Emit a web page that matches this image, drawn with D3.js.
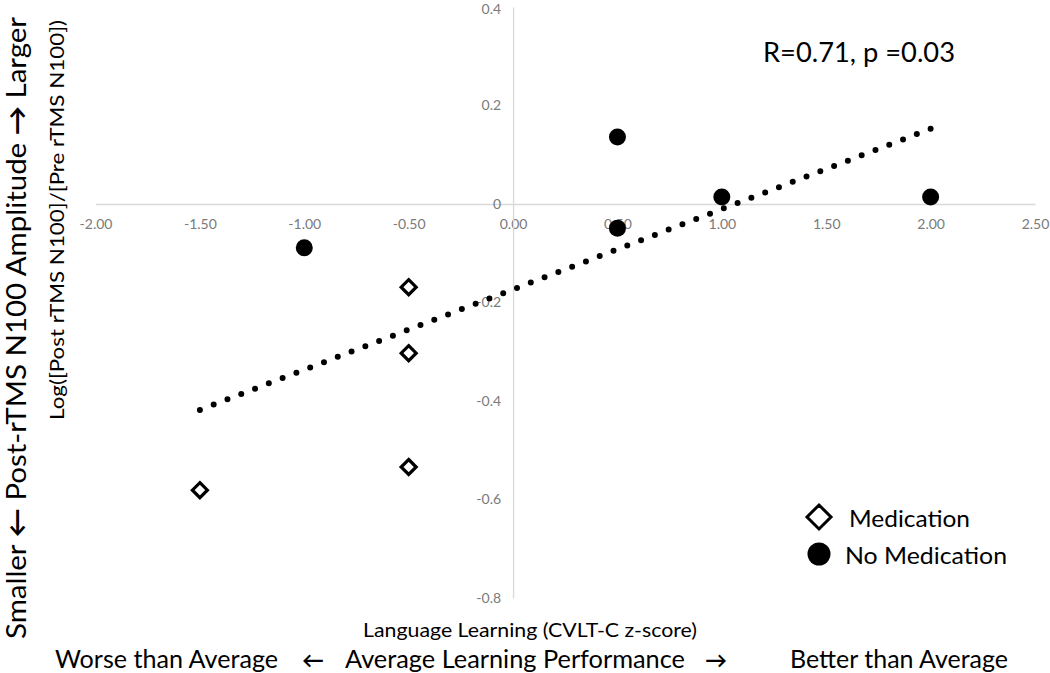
<!DOCTYPE html>
<html><head><meta charset="utf-8">
<script src="https://cdn.jsdelivr.net/npm/d3@7"></script>
<style>body{margin:0;background:#fff} text{font-family:Lato,"Open Sans",sans-serif}</style>
</head><body><svg id="c" width="1050" height="673"></svg>
<script>
// ---- data ----
const medX = [-1.5, -0.5, -0.5, -0.5];
const medY = [-0.581, -0.169, -0.303, -0.534];
const noMedX = [-1.0, 0.5, 0.5, 1.0, 2.0];
const noMedY = [-0.089, 0.136, -0.049, 0.014, 0.014];
const xTicks = [-2, -1.5, -1, -0.5, 0, 0.5, 1, 1.5, 2, 2.5];
const xTickLabels = ["-2.00","-1.50","-1.00","-0.50","0.00","0.50","1.00","1.50","2.00","2.50"];
const yTicks = [-0.8, -0.6, -0.4, -0.2, 0, 0.2, 0.4];
const yTickLabels = ["-0.8","-0.6","-0.4","-0.2","0","0.2","0.4"];
const seriesNames = ["Medication", "No Medication"];
const statText = "R=0.71, p =0.03";
const xTitle = "Language Learning (CVLT-C z-score)";
const yTitle = "Log([Post rTMS N100]/[Pre rTMS N100])";
const yOuterParts = ["Smaller ", "\u2190", " Post-rTMS N100 Amplitude ", "\u2192", " Larger"];
const xOuterParts = ["Worse than Average", "\u2190", "Average Learning Performance", "\u2192", "Better than Average"];

// ---- scales ----
const svg = d3.select("#c");
const x = d3.scaleLinear().domain([-2, 2.5]).range([95.5, 1035]);
const y = d3.scaleLinear().domain([-0.8, 0.4]).range([598, 7]);

// ---- axes ----
const gx = svg.append("g").attr("transform", `translate(0,${y(0)})`)
  .call(d3.axisBottom(x).tickValues(xTicks).tickSize(0).tickSizeOuter(0).tickPadding(15)
    .tickFormat((d, i) => xTickLabels[i]));
const gy = svg.append("g").attr("transform", `translate(${x(0)},0)`)
  .call(d3.axisLeft(y).tickValues(yTicks).tickSize(0).tickSizeOuter(0).tickPadding(12)
    .tickFormat((d, i) => yTickLabels[i]));
[gx, gy].forEach(g => {
  g.select(".domain").attr("stroke", "#d9d9d9").attr("stroke-width", 1.3);
  g.selectAll("text").attr("fill", "#7a7a7a").style("font-size", "14px").style("font-family", "Lato, sans-serif");
});
gy.selectAll(".tick text").filter(d => d === 0.4).attr("dy", "0.45em");

// ---- trendline (least squares over all points) ----
const allX = medX.concat(noMedX), allY = medY.concat(noMedY);
const mx = d3.mean(allX), my = d3.mean(allY);
const slope = d3.sum(allX, (v, i) => (v - mx) * (allY[i] - my)) / d3.sum(allX, v => (v - mx) ** 2);
const icpt = my - slope * mx;
const [x0, x1] = d3.extent(allX);
const trend = svg.append("path")
  .attr("d", d3.line().x(d => x(d)).y(d => y(icpt + slope * d))([x0, x1]))
  .attr("stroke", "#000").attr("stroke-width", 6).attr("stroke-linecap", "round").attr("fill", "none");
const L = trend.node().getTotalLength();
const gap = L / Math.round(L / 14.8);
trend.attr("stroke-dasharray", `0 ${gap}`);

// ---- points ----
const diamond = s => `M0,${-s}L${s},0L0,${s}L${-s},0Z`;
svg.append("g").selectAll("path").data(medX).join("path")
  .attr("transform", (d, i) => `translate(${x(d)},${y(medY[i])})`)
  .attr("d", diamond(7.5)).attr("fill", "#fff").attr("stroke", "#000").attr("stroke-width", 3.2);
svg.append("g").selectAll("circle").data(noMedX).join("circle")
  .attr("cx", d => x(d)).attr("cy", (d, i) => y(noMedY[i])).attr("r", 8.5).attr("fill", "#000");

// ---- stat text ----
svg.append("text").attr("x", 763).attr("y", 62).text(statText)
  .style("font-size", "26px").attr("textLength", 192).attr("lengthAdjust", "spacingAndGlyphs");

// ---- legend ----
svg.append("path").attr("transform", "translate(819,517)").attr("d", diamond(12))
  .attr("fill", "#fff").attr("stroke", "#000").attr("stroke-width", 3);
svg.append("circle").attr("cx", 819).attr("cy", 554).attr("r", 11.5).attr("fill", "#000");
svg.append("text").attr("x", 849).attr("y", 527).text(seriesNames[0]).style("font-size", "24px")
  .attr("textLength", 121).attr("lengthAdjust", "spacingAndGlyphs");
svg.append("text").attr("x", 845).attr("y", 564).text(seriesNames[1]).style("font-size", "24px")
  .attr("textLength", 162).attr("lengthAdjust", "spacingAndGlyphs");

// ---- axis titles ----
svg.append("text").attr("x", 530).attr("y", 637).attr("text-anchor", "middle")
  .text(xTitle).style("font-size", "20px").attr("textLength", 334).attr("lengthAdjust", "spacingAndGlyphs");
svg.append("text").attr("transform", "translate(64,220) rotate(-90)").attr("text-anchor", "middle")
  .text(yTitle).style("font-size", "20px").attr("textLength", 400).attr("lengthAdjust", "spacingAndGlyphs");
const yo = svg.append("text").attr("transform", "translate(26,328) rotate(-90)").attr("text-anchor", "middle")
  .style("font-size", "26px").attr("textLength", 622).attr("lengthAdjust", "spacingAndGlyphs");
yOuterParts.forEach((t, i) => {
  const ts = yo.append("tspan").text(t);
  if (i % 2 === 1) ts.style("font-weight", "700");
});

// bottom descriptor line
const bx = [55, 302, 345, 705, 790];
const bw = [223, null, 340, null, 218];
xOuterParts.forEach((t, i) => {
  const tx = svg.append("text").attr("x", bx[i]).attr("y", 668).text(t).style("font-size", "25px");
  if (bw[i]) tx.attr("textLength", bw[i]).attr("lengthAdjust", "spacingAndGlyphs");
  else tx.style("font-weight", "700").style("font-size", "22px");
});
</script></body></html>
